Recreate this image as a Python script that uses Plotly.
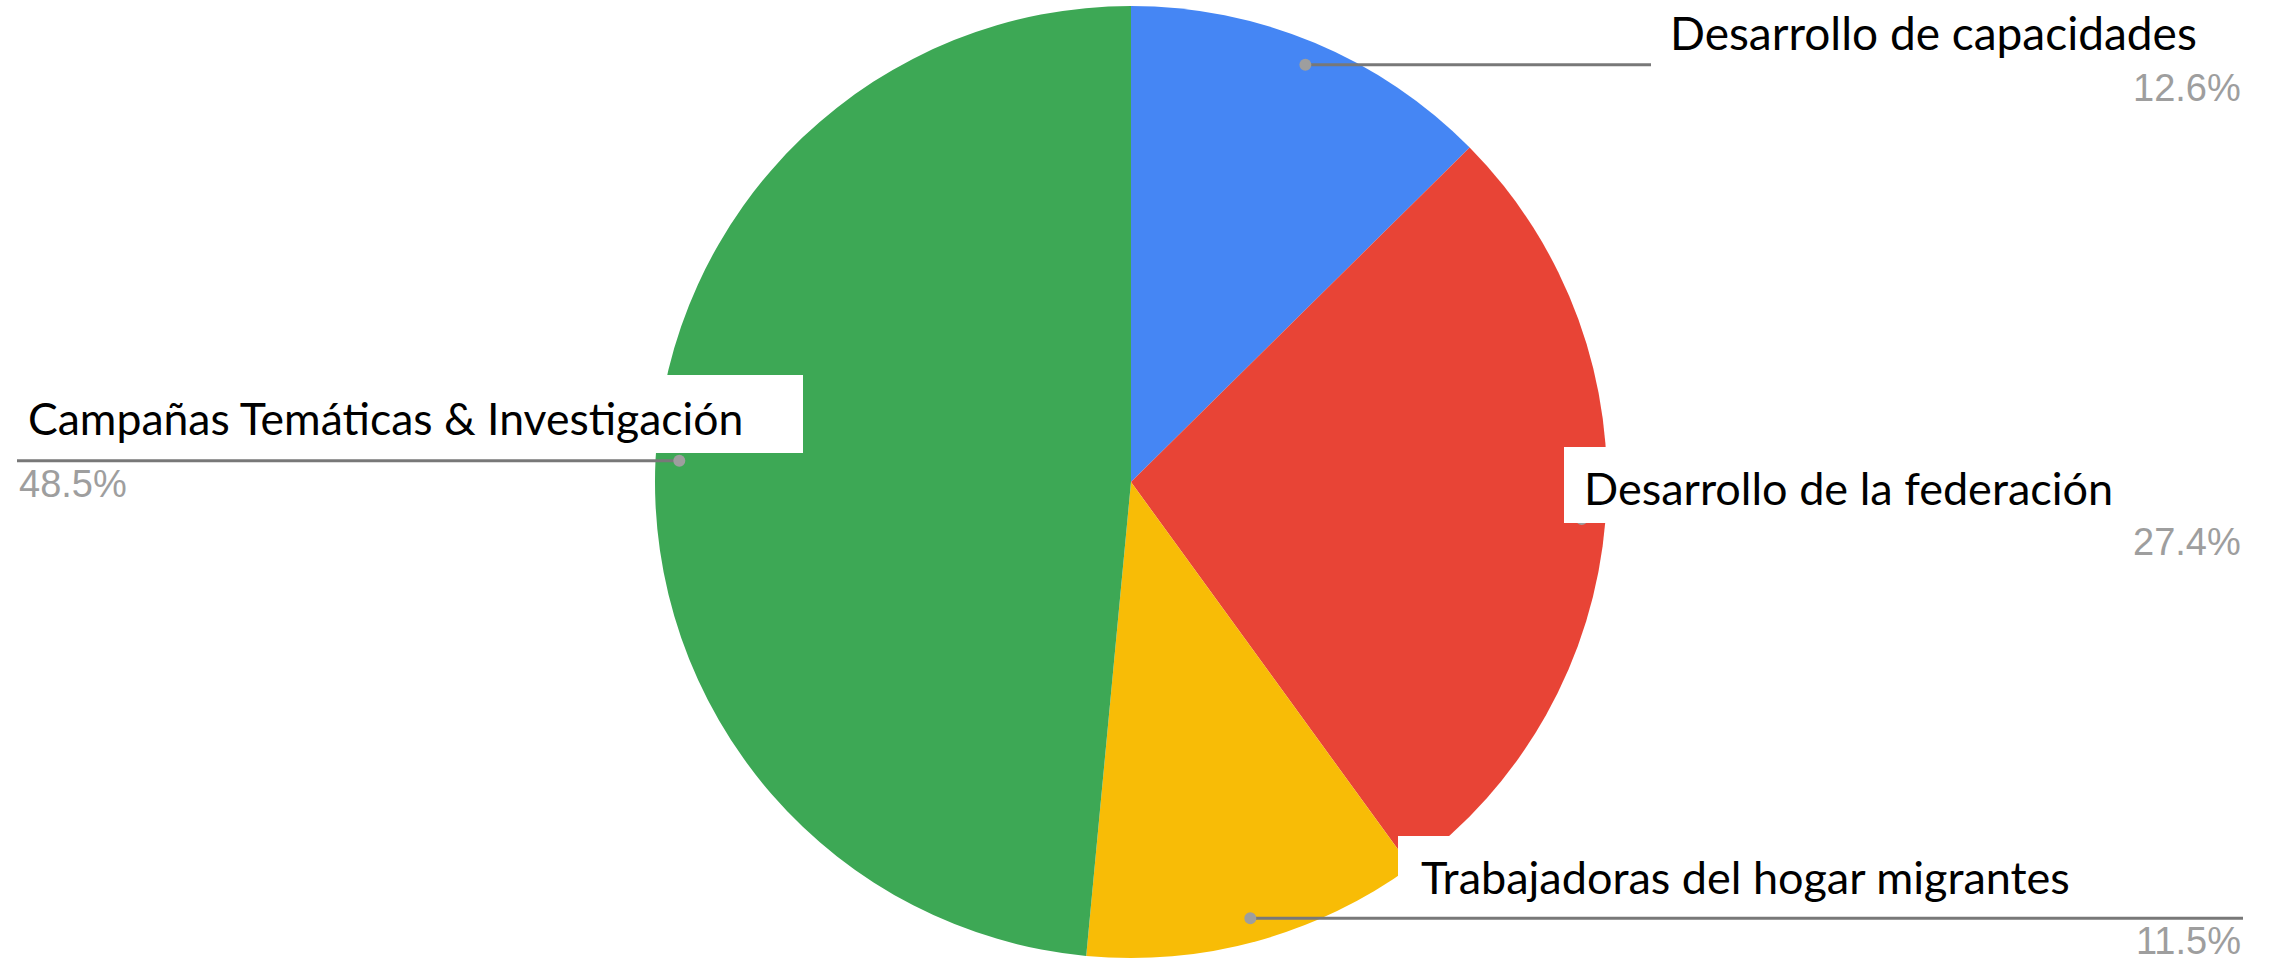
import math
import plotly.graph_objects as go

W, H = 2277, 961

# ---- data ----
categories = [
    "Desarrollo de capacidades",
    "Desarrollo de la federación",
    "Trabajadoras del hogar migrantes",
    "Campañas Temáticas & Investigación",
]
values = [12.6, 27.4, 11.5, 48.5]
pct_labels = ["12.6%", "27.4%", "11.5%", "48.5%"]
colors = ["#4586F4", "#E84436", "#F8BC06", "#3DA855"]

# ---- layout geometry (pixels) ----
cx, cy, r = 1131, 482, 476
right_edge, left_edge = 2243, 17
dot_frac = 0.95

def px(x):
    return x / W

def py(y):
    return 1 - y / H

fig = go.Figure()
fig.add_trace(go.Pie(
    labels=categories,
    values=values,
    sort=False,
    direction="clockwise",
    rotation=0,
    marker=dict(colors=colors, line=dict(width=0)),
    textinfo="none",
    hoverinfo="label+percent",
    showlegend=False,
    domain=dict(x=[(cx - r) / W, (cx + r) / W], y=[(H - cy - r) / H, (H - cy + r) / H]),
))

shapes = []
annotations = []
total = sum(values)
cum = 0.0
anchors = []
for v in values:
    mid = (cum + v / 2) / total * 2 * math.pi
    cum += v
    dx = dot_frac * r * math.sin(mid)
    dy = -dot_frac * r * math.cos(mid)
    anchors.append((cx + dx, cy + dy, dx >= 0))

line_col = "#787878"
dot_col = "#9E9E9E"
for (x0, y0, right) in anchors:
    xe = right_edge if right else left_edge
    shapes.append(dict(type="line", xref="paper", yref="paper",
                       x0=px(x0), y0=py(y0), x1=px(xe), y1=py(y0),
                       line=dict(color=line_col, width=3), layer="above"))
    rd = 6
    shapes.append(dict(type="circle", xref="paper", yref="paper",
                       x0=px(x0 - rd), y0=py(y0 - rd), x1=px(x0 + rd), y1=py(y0 + rd),
                       fillcolor=dot_col, line=dict(width=0), layer="above"))

# percentage labels (below the leader line)
for (x0, y0, right), t in zip(anchors, pct_labels):
    xe = right_edge if right else left_edge
    annotations.append(dict(
        text=t, xref="paper", yref="paper", x=px(xe), y=py(y0 + 23),
        xanchor="right" if right else "left", yanchor="middle", showarrow=False,
        font=dict(family="Liberation Sans, Arial, sans-serif", size=38, color="#9E9E9E"),
    ))

# white label boxes pasted over the chart
boxes = [
    (1651, 0, 2277, 72),
    (1564, 447, 2262, 523),
    (1398, 836, 2228, 908),
    (0, 375, 803, 453),
]
for (x0, y0, x1, y1) in boxes:
    shapes.append(dict(type="rect", xref="paper", yref="paper",
                       x0=px(x0), y0=py(y0), x1=px(x1), y1=py(y1),
                       fillcolor="white", line=dict(width=0), layer="above"))

text_pos = [(1668, 32), (1582, 488), (1419, 877), (26, 417)]
text_size = [46, 45, 45, 44.5]
for t, (tx, ty), fs in zip(categories, text_pos, text_size):
    annotations.append(dict(
        text=t, xref="paper", yref="paper", x=px(tx), y=py(ty),
        xanchor="left", yanchor="middle", showarrow=False,
        font=dict(family="Lato, Carlito, Calibri, sans-serif", size=fs, color="black"),
    ))

fig.update_layout(
    width=W, height=H,
    margin=dict(l=0, r=0, t=0, b=0),
    paper_bgcolor="white", plot_bgcolor="white",
    shapes=shapes, annotations=annotations,
)
fig.write_html(
    "out.html",
    config={"displayModeBar": False},
    post_script="document.body.style.margin='0';document.body.style.overflow='hidden';",
)
